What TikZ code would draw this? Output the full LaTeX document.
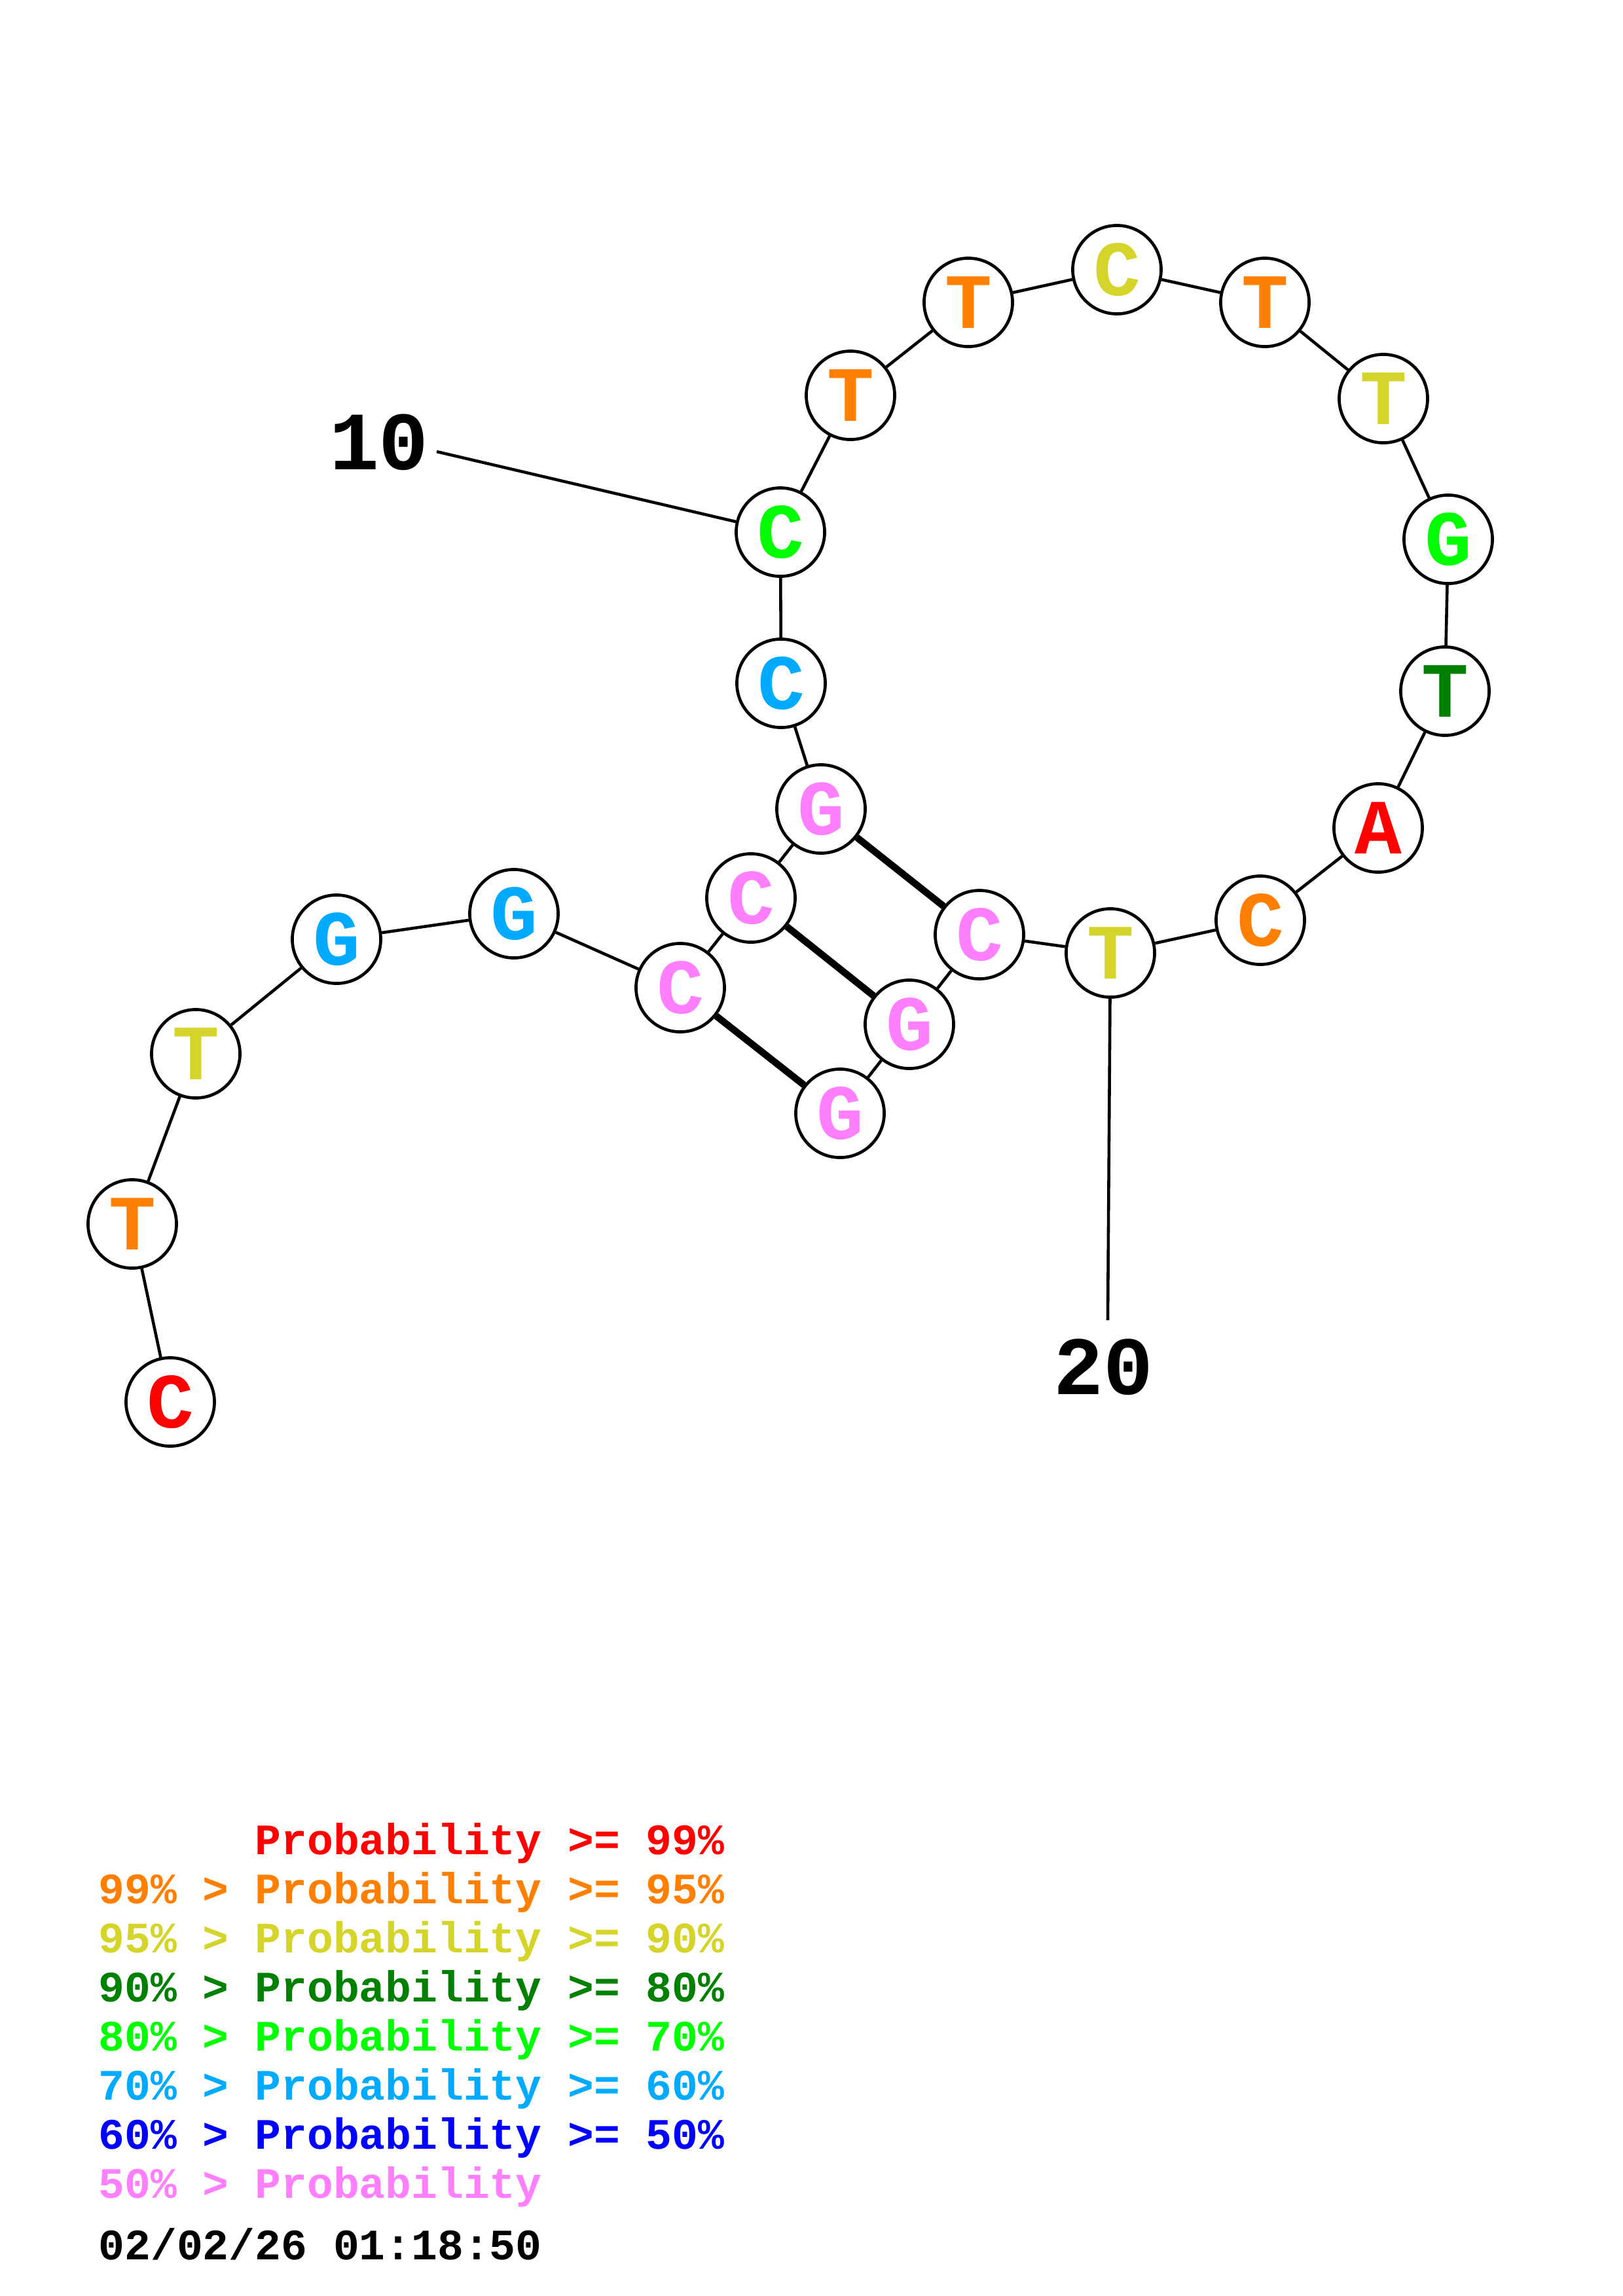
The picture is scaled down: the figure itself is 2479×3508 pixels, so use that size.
\documentclass[tikz,border=0pt]{standalone}
\usepackage{fontspec}
\setmonofont{Liberation Mono}
\definecolor{cRed}{RGB}{255,0,0}
\definecolor{cOrange}{RGB}{255,128,0}
\definecolor{cYellow}{RGB}{212,212,42}
\definecolor{cDkGreen}{RGB}{0,128,0}
\definecolor{cGreen}{RGB}{0,255,0}
\definecolor{cLtBlue}{RGB}{0,170,255}
\definecolor{cBlue}{RGB}{0,0,255}
\definecolor{cPink}{RGB}{255,128,255}
\tikzset{
  base/.style={circle, draw=black, line width=1.33pt, fill=white, minimum size=1.35cm, inner sep=0pt,
    font=\ttfamily\bfseries\fontsize{34pt}{34pt}\selectfont},
  bb/.style={line width=1.3pt, black},
  pair/.style={line width=3.0pt, black},
  numlab/.style={font=\ttfamily\bfseries\fontsize{36pt}{36pt}\selectfont, inner sep=0pt},
  leg/.style={font=\ttfamily\bfseries\fontsize{18.87pt}{18.87pt}\selectfont, anchor=base west, inner sep=0pt}
}
\begin{document}
\begin{tikzpicture}[x=0.01cm, y=-0.01cm]
\useasboundingbox (0,0) rectangle (2479,3508);
% nucleotides
\node[base, text=cRed]     (n1)  at (260,2142) {C};
\node[base, text=cOrange]  (n2)  at (202,1870) {T};
\node[base, text=cYellow]  (n3)  at (299,1610) {T};
\node[base, text=cLtBlue]  (n4)  at (514,1435) {G};
\node[base, text=cLtBlue]  (n5)  at (785,1396) {G};
\node[base, text=cPink]    (n6)  at (1039,1509) {C};
\node[base, text=cPink]    (n7)  at (1147,1372) {C};
\node[base, text=cPink]    (n8)  at (1254,1236) {G};
\node[base, text=cLtBlue]  (n9)  at (1193,1044) {C};
\node[base, text=cGreen]   (n10) at (1192,813) {C};
\node[base, text=cOrange]  (n11) at (1299,604) {T};
\node[base, text=cOrange]  (n12) at (1479,462) {T};
\node[base, text=cYellow]  (n13) at (1706,412) {C};
\node[base, text=cOrange]  (n14) at (1932,462) {T};
\node[base, text=cYellow]  (n15) at (2113,609) {T};
\node[base, text=cGreen]   (n16) at (2212,824) {G};
\node[base, text=cDkGreen] (n17) at (2207,1056) {T};
\node[base, text=cRed]     (n18) at (2105,1265) {A};
\node[base, text=cOrange]  (n19) at (1925,1406) {C};
\node[base, text=cYellow]  (n20) at (1696,1456) {T};
\node[base, text=cPink]    (n21) at (1496,1428) {C};
\node[base, text=cPink]    (n22) at (1389,1565) {G};
\node[base, text=cPink]    (n23) at (1283,1701) {G};
% backbone
\foreach \a/\b in {1/2,2/3,3/4,4/5,5/6,6/7,7/8,8/9,9/10,10/11,11/12,12/13,13/14,14/15,15/16,16/17,17/18,18/19,19/20,20/21,21/22,22/23}
  \draw[bb] (n\a) -- (n\b);
% base pairs
\draw[pair] (n8) -- (n21);
\draw[pair] (n7) -- (n22);
\draw[pair] (n6) -- (n23);
% number labels
\node[numlab] (t10) at (579,676) {10};
\node[numlab] (t20) at (1685,2089) {20};
\coordinate (e10) at (667,690);
\coordinate (e20) at (1692,2017);
\draw[bb] (e10) -- (n10);
\draw[bb] (e20) -- (n20);
% legend
\node[leg, text=cRed]     (g1) at (150,2833) {\phantom{99\% > }Probability >= 99\%};
\node[leg, text=cOrange]  (g2) at (150,2908) {99\% > Probability >= 95\%};
\node[leg, text=cYellow]  (g3) at (150,2983) {95\% > Probability >= 90\%};
\node[leg, text=cDkGreen] (g4) at (150,3058) {90\% > Probability >= 80\%};
\node[leg, text=cGreen]   (g5) at (150,3133) {80\% > Probability >= 70\%};
\node[leg, text=cLtBlue]  (g6) at (150,3208) {70\% > Probability >= 60\%};
\node[leg, text=cBlue]    (g7) at (150,3283) {60\% > Probability >= 50\%};
\node[leg, text=cPink]    (g8) at (150,3358) {50\% > Probability};
\node[leg, text=black]    (g9) at (150,3452) {02/02/26 01:18:50};
\end{tikzpicture}
\end{document}
